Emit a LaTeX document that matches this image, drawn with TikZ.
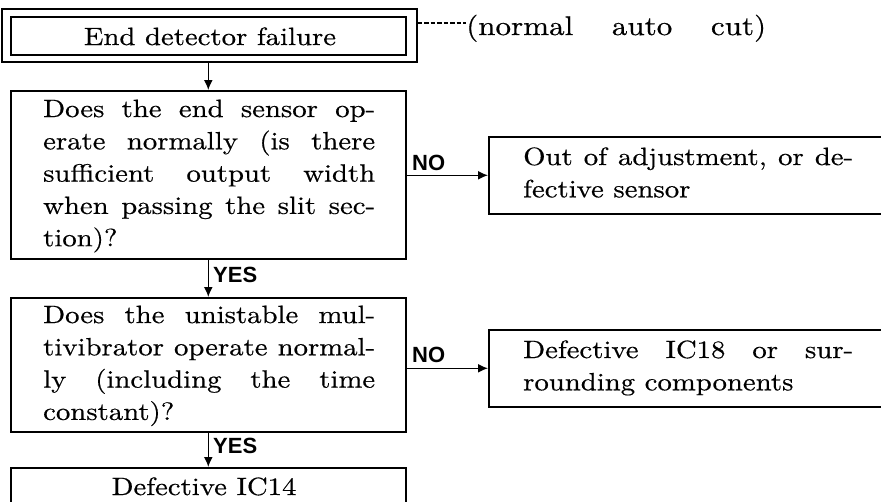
\documentclass[tikz,border=0pt]{standalone}
\usepackage{fontspec}
\setmainfont{lmroman10-regular.otf}[FakeStretch=1.15,FakeBold=0.5]
\newfontfamily\lblfont{Liberation Sans}
\usetikzlibrary{arrows.meta}
\newcommand\jline[1]{\makebox[\linewidth][s]{#1}\par}
\begin{document}
\begin{tikzpicture}[x=1pt,y=-1pt,
  box/.style={draw, line width=1.6pt, inner sep=0pt, anchor=north west},
  body/.style={font=\fontsize{25}{32.3}\selectfont, inner sep=0pt},
  lbl/.style={font=\lblfont\bfseries\fontsize{22}{22}\selectfont, inner sep=0pt, anchor=base west},
  conn/.style={line width=1.4pt, -{Latex[length=10pt,width=9pt]}},
  plain/.style={line width=1.4pt}
]
\useasboundingbox (0,0) rectangle (881,501);
% boxes
\node[box, minimum width=415pt, minimum height=53pt] (outer) at (1,8) {};
\node[box, minimum width=395pt, minimum height=38pt] (start) at (10,16) {};
\node[box, minimum width=395pt, minimum height=168pt] (q1) at (10,90) {};
\node[box, minimum width=395pt, minimum height=134pt] (q2) at (10,297) {};
\node[box, minimum width=395pt, minimum height=80pt] (res) at (10,467) {};
\node[box, minimum width=420pt, minimum height=77pt] (no1) at (488,136) {};
\node[box, minimum width=420pt, minimum height=77pt] (no2) at (488,329) {};
% texts
\node[body, anchor=base] (t0) at (210,45) {End detector failure};
\node[body, anchor=base west] (note) at (466,35) {\fontsize{27}{32}\selectfont\makebox[300pt][s]{(normal auto cut)}};
\coordinate (dashend) at (466,23);
\node[body, anchor=base west] (t1) at (43,117) {\parbox[t]{332pt}{\jline{Does the end sensor op-}\jline{erate normally (is there}\jline{sufficient output width}\jline{when passing the slit sec-}tion)?}};
\node[body, anchor=base west] (t2) at (43,323) {\parbox[t]{332pt}{\jline{Does the unistable mul-}\jline{tivibrator operate normal-}\jline{ly (including the time}constant)?}};
\node[body, anchor=base west] (t3) at (523,165) {\parbox[t]{330pt}{\jline{Out of adjustment, or de-}fective sensor}};
\node[body, anchor=base west] (t4) at (523,358) {\parbox[t]{330pt}{\jline{Defective IC18 or sur-}rounding components}};
\node[body, anchor=base] (t5) at (204,495) {Defective IC14};
% labels
\node[lbl] (lno1) at (412,170) {NO};
\node[lbl] (lno2) at (412,362) {NO};
\node[lbl] (lyes1) at (213,282) {YES};
\node[lbl] (lyes2) at (213,453) {YES};
% connectors
\draw[plain, dash pattern=on 4.5pt off 2pt] (outer.east |- dashend) -- (dashend);
\draw[conn] (q1.north |- outer.south) -- (q1.north);
\draw[conn] (q1.south) -- (q2.north);
\draw[conn] (q2.south) -- (res.north);
\draw[conn] (q1.east |- no1.west) -- (no1.west);
\draw[conn] (q2.east |- no2.west) -- (no2.west);
\end{tikzpicture}
\end{document}
